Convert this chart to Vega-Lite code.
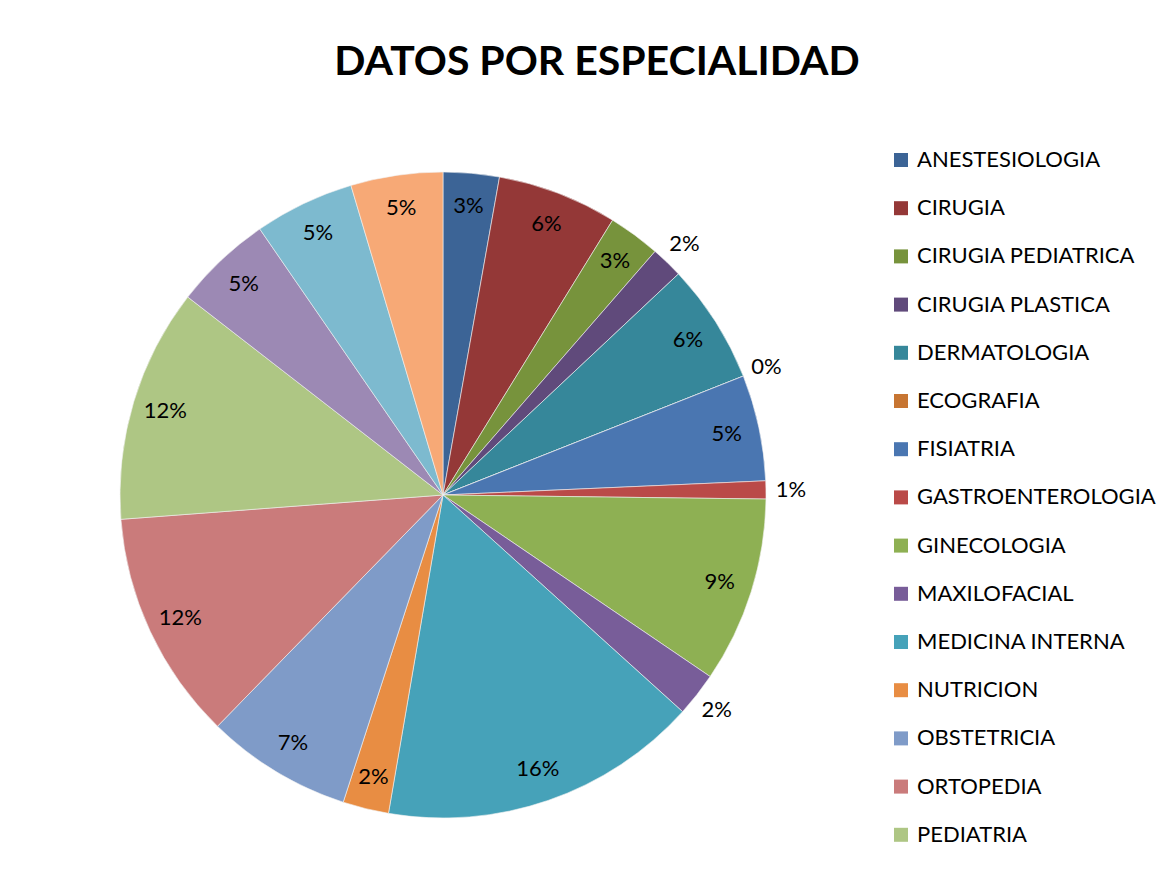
{
  "$schema": "https://vega.github.io/schema/vega-lite/v6.json",
  "autosize": {"type": "none"},
  "width": 646,
  "height": 646,
  "padding": {"left": 120, "top": 172, "right": 405, "bottom": 72},
  "background": "white",
  "title": {
    "text": "DATOS POR ESPECIALIDAD",
    "font": "Lato",
    "fontSize": 41,
    "fontWeight": "bold",
    "color": "black",
    "anchor": "middle",
    "dx": 154,
    "offset": 53
  },
  "data": {
    "values": [
      {"i": 1, "esp": "ANESTESIOLOGIA", "v": 0.028},
      {"i": 2, "esp": "CIRUGIA", "v": 0.060},
      {"i": 3, "esp": "CIRUGIA PEDIATRICA", "v": 0.026},
      {"i": 4, "esp": "CIRUGIA PLASTICA", "v": 0.016},
      {"i": 5, "esp": "DERMATOLOGIA", "v": 0.060},
      {"i": 6, "esp": "ECOGRAFIA", "v": 0.0},
      {"i": 7, "esp": "FISIATRIA", "v": 0.053},
      {"i": 8, "esp": "GASTROENTEROLOGIA", "v": 0.009},
      {"i": 9, "esp": "GINECOLOGIA", "v": 0.093},
      {"i": 10, "esp": "MAXILOFACIAL", "v": 0.022},
      {"i": 11, "esp": "MEDICINA INTERNA", "v": 0.160},
      {"i": 12, "esp": "NUTRICION", "v": 0.023},
      {"i": 13, "esp": "OBSTETRICIA", "v": 0.073},
      {"i": 14, "esp": "ORTOPEDIA", "v": 0.115},
      {"i": 15, "esp": "PEDIATRIA", "v": 0.117},
      {"i": 16, "esp": "PSICOLOGIA", "v": 0.049},
      {"i": 17, "esp": "REUMATOLOGIA", "v": 0.050},
      {"i": 18, "esp": "UROLOGIA", "v": 0.046}
    ]
  },
  "encoding": {
    "theta": {"field": "v", "type": "quantitative", "stack": true},
    "order": {"field": "i", "type": "quantitative"}
  },
  "layer": [
    {
      "mark": {"type": "arc", "stroke": "#f2f2f2", "strokeWidth": 0.6},
      "encoding": {
        "color": {
          "field": "esp",
          "type": "nominal",
          "sort": null,
          "scale": {
            "domain": ["ANESTESIOLOGIA", "CIRUGIA", "CIRUGIA PEDIATRICA", "CIRUGIA PLASTICA", "DERMATOLOGIA", "ECOGRAFIA", "FISIATRIA", "GASTROENTEROLOGIA", "GINECOLOGIA", "MAXILOFACIAL", "MEDICINA INTERNA", "NUTRICION", "OBSTETRICIA", "ORTOPEDIA", "PEDIATRIA", "PSICOLOGIA", "REUMATOLOGIA", "UROLOGIA"],
            "range": ["#3C6496", "#943837", "#77933C", "#604A7B", "#36879A", "#C77532", "#4A76B1", "#BA4A48", "#8EB053", "#785D99", "#46A2B9", "#E88D43", "#7F9BC8", "#CA7B7B", "#AEC684", "#9C89B4", "#7DBACF", "#F7A976"]
          },
          "legend": {
            "title": null,
            "orient": "none",
            "legendX": 770,
            "legendY": -23,
            "values": ["ANESTESIOLOGIA", "CIRUGIA", "CIRUGIA PEDIATRICA", "CIRUGIA PLASTICA", "DERMATOLOGIA", "ECOGRAFIA", "FISIATRIA", "GASTROENTEROLOGIA", "GINECOLOGIA", "MAXILOFACIAL", "MEDICINA INTERNA", "NUTRICION", "OBSTETRICIA", "ORTOPEDIA", "PEDIATRIA"],
            "symbolType": "square",
            "symbolSize": 196,
            "symbolStrokeWidth": 0,
            "labelFont": "Lato",
            "labelFontSize": 22,
            "labelColor": "black",
            "labelOffset": 5,
            "labelLimit": 400,
            "rowPadding": 26.2
          }
        }
      }
    },
    {
      "mark": {"type": "text", "radius": 290, "font": "Lato", "fontSize": 22, "color": "black"},
      "encoding": {
        "text": {
          "condition": {"test": "indexof(['CIRUGIA PLASTICA','ECOGRAFIA','GASTROENTEROLOGIA','MAXILOFACIAL'], datum.esp) >= 0", "value": ""},
          "field": "v",
          "type": "quantitative",
          "format": ".0%"
        }
      }
    },
    {
      "mark": {"type": "text", "radius": 348, "font": "Lato", "fontSize": 22, "color": "black"},
      "encoding": {
        "text": {
          "condition": {"test": "indexof(['CIRUGIA PLASTICA','ECOGRAFIA','GASTROENTEROLOGIA','MAXILOFACIAL'], datum.esp) < 0", "value": ""},
          "field": "v",
          "type": "quantitative",
          "format": ".0%"
        }
      }
    }
  ]
}
